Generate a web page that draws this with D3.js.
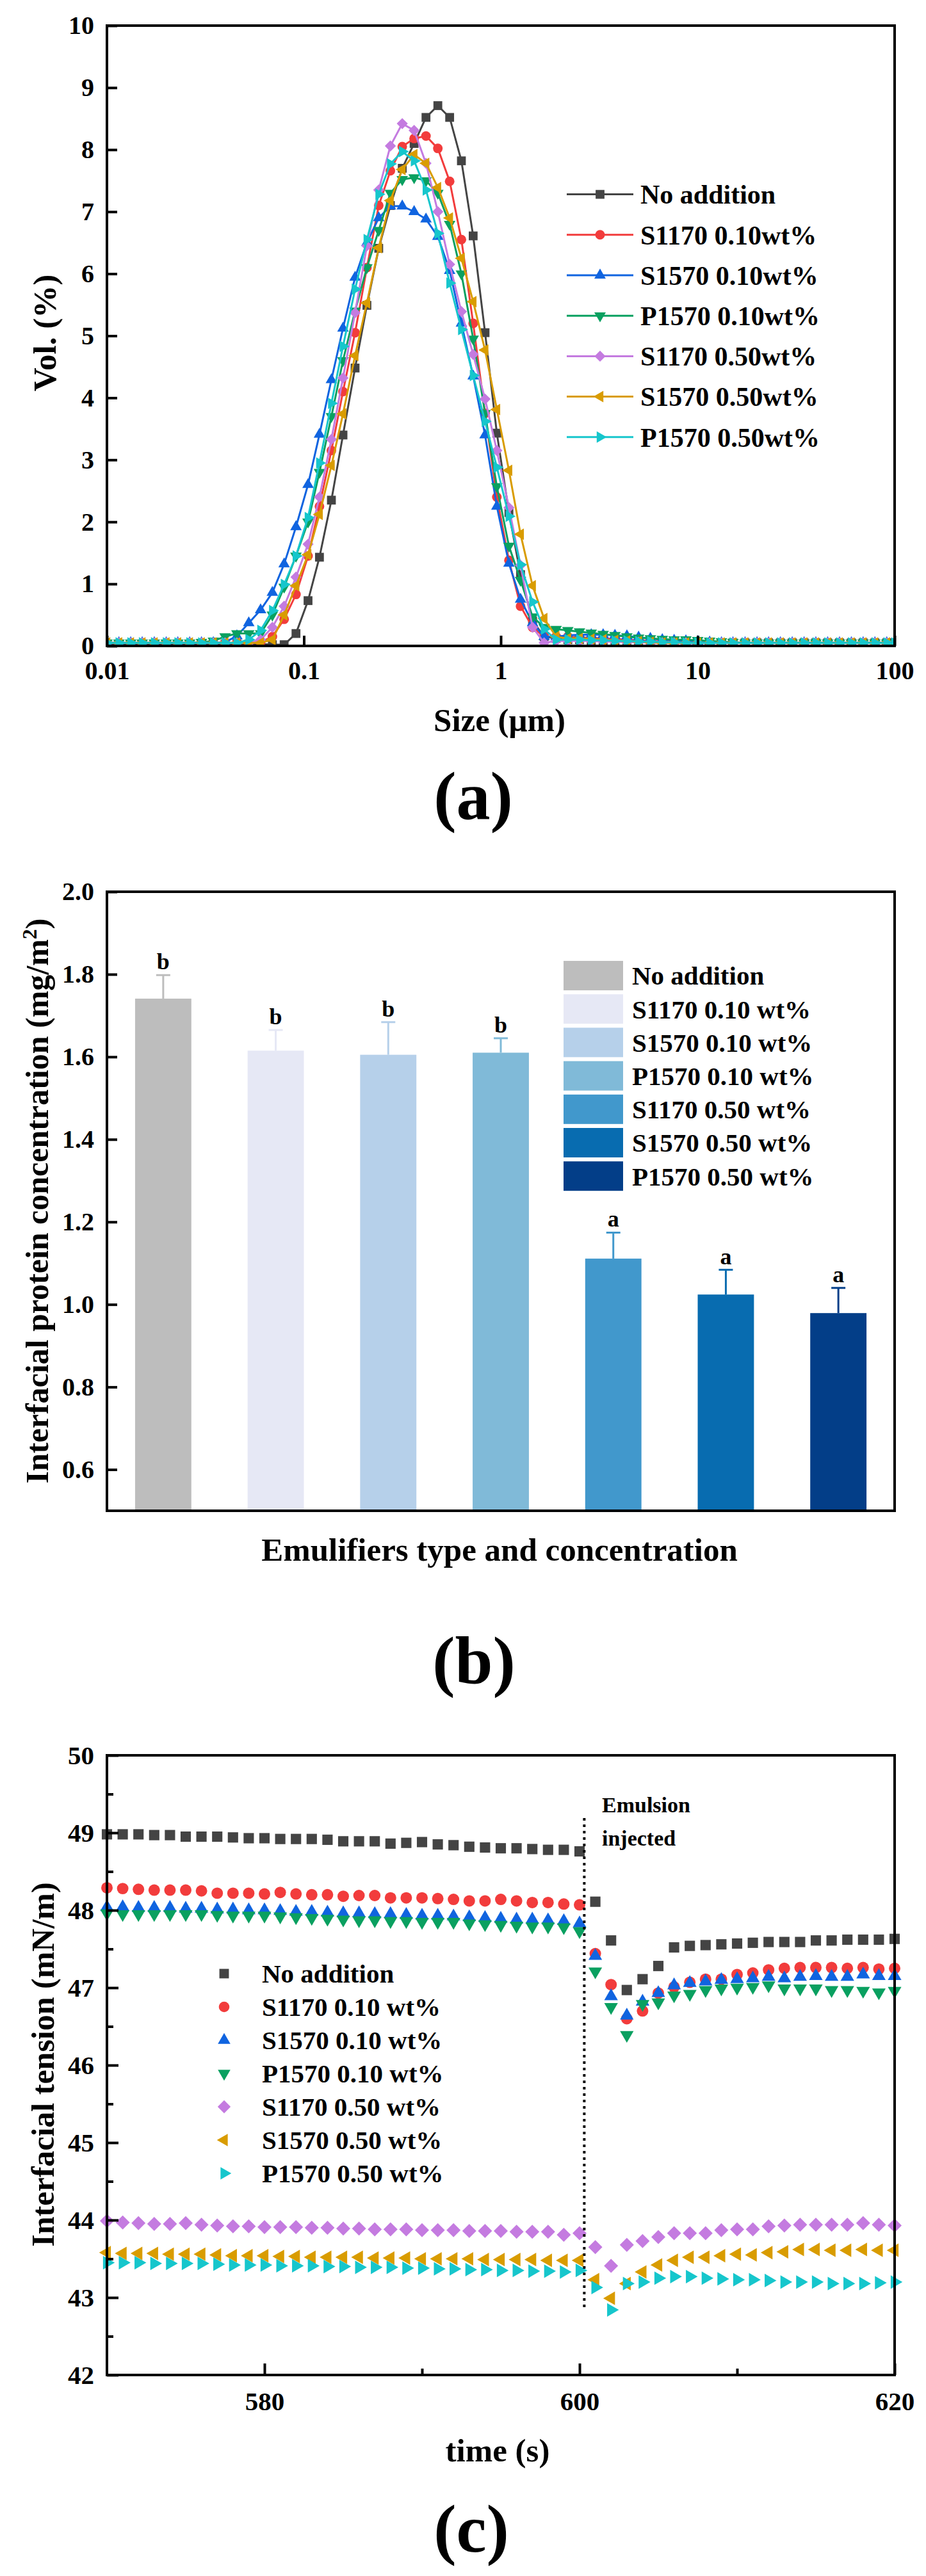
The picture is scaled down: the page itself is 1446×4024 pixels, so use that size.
<!DOCTYPE html>
<html><head><meta charset="utf-8">
<script src="https://cdn.jsdelivr.net/npm/d3@7"></script>
<style>
body{margin:0;background:#fff}
svg text{font-family:"Liberation Serif","Times New Roman",serif;font-weight:bold;fill:#000}
</style>
</head><body>
<svg id="chart" width="1446" height="4024"></svg>
<script>
// ---------------- Panel (a) data: particle size distribution ----------------
const aSize = [
 0.01,0.0115,0.0132,0.0151,0.0174,0.0200,0.0229,0.0263,0.0302,0.0347,
 0.0398,0.0457,0.0525,0.0603,0.0692,0.0794,0.0912,0.105,0.120,0.138,
 0.158,0.182,0.209,0.240,0.275,0.316,0.363,0.417,0.479,0.550,
 0.631,0.724,0.832,0.955,1.10,1.26,1.45,1.66,1.91,2.19,
 2.51,2.88,3.31,3.80,4.37,5.01,5.75,6.61,7.59,8.71,
 10.0,11.5,13.2,15.1,17.4,20.0,22.9,26.3,30.2,34.7,
 39.8,45.7,52.5,60.3,69.2,79.4,91.2,100];
const aNoAddition = [
 0.03,0.03,0.03,0.03,0.03,0.03,0.03,0.03,0.03,0.03,
 0.03,0.03,0.03,0.03,0.02,0.02,0.20,0.73,1.43,2.35,
 3.40,4.48,5.49,6.41,7.10,7.70,8.10,8.52,8.71,8.52,
 7.82,6.61,5.05,3.43,2.15,1.15,0.40,0.15,0.12,0.10,
 0.10,0.09,0.08,0.08,0.07,0.07,0.06,0.06,0.05,0.05,
 0.05,0.05,0.05,0.05,0.05,0.05,0.05,0.05,0.05,0.05,
 0.05,0.05,0.05,0.05,0.05,0.05,0.05,0.05];
const aS1170_010 = [
 0.05,0.05,0.05,0.05,0.05,0.05,0.05,0.05,0.05,0.05,
 0.05,0.05,0.05,0.06,0.15,0.43,0.83,1.45,2.25,3.15,
 4.10,5.05,6.10,7.10,7.66,8.05,8.18,8.22,8.02,7.49,
 6.55,5.20,3.75,2.40,1.38,0.64,0.30,0.15,0.15,0.15,
 0.14,0.13,0.12,0.11,0.10,0.09,0.08,0.07,0.06,0.05,
 0.05,0.05,0.05,0.05,0.05,0.05,0.05,0.05,0.05,0.05,
 0.05,0.05,0.05,0.05,0.05,0.05,0.05,0.05];
const aS1570_010 = [
 0.05,0.05,0.05,0.05,0.05,0.05,0.05,0.05,0.05,0.05,
 0.06,0.16,0.37,0.58,0.86,1.32,1.92,2.60,3.41,4.29,
 5.12,5.94,6.50,6.90,7.09,7.09,7.00,6.88,6.60,6.05,
 5.20,4.35,3.40,2.25,1.33,0.75,0.37,0.15,0.15,0.17,
 0.18,0.18,0.18,0.17,0.16,0.14,0.12,0.10,0.09,0.08,
 0.07,0.06,0.05,0.05,0.05,0.05,0.05,0.05,0.05,0.05,
 0.05,0.05,0.05,0.05,0.05,0.05,0.05,0.05];
const aP1570_010 = [
 0.05,0.05,0.05,0.05,0.05,0.05,0.05,0.05,0.06,0.08,
 0.15,0.20,0.20,0.20,0.50,0.95,1.45,2.00,2.80,3.70,
 4.60,5.40,6.10,6.70,7.30,7.52,7.55,7.50,7.30,6.80,
 6.00,4.95,3.75,2.57,1.61,1.06,0.47,0.30,0.27,0.25,
 0.23,0.21,0.19,0.17,0.15,0.13,0.12,0.11,0.10,0.10,
 0.09,0.08,0.07,0.06,0.05,0.05,0.05,0.05,0.05,0.05,
 0.05,0.05,0.05,0.05,0.05,0.05,0.05,0.05];
const aS1170_050 = [
 0.05,0.05,0.05,0.05,0.05,0.05,0.05,0.05,0.05,0.05,
 0.05,0.05,0.05,0.10,0.30,0.64,1.11,1.64,2.40,3.33,
 4.32,5.37,6.45,7.35,8.06,8.42,8.31,7.78,7.00,6.15,
 5.39,4.70,3.98,3.15,2.23,1.30,0.30,0.05,0.08,0.08,
 0.08,0.08,0.07,0.07,0.06,0.06,0.05,0.05,0.05,0.05,
 0.05,0.05,0.05,0.05,0.05,0.05,0.05,0.05,0.05,0.05,
 0.05,0.05,0.05,0.05,0.05,0.05,0.05,0.05];
const aS1570_050 = [
 0.05,0.05,0.05,0.05,0.05,0.05,0.05,0.05,0.05,0.05,
 0.05,0.05,0.05,0.05,0.10,0.50,0.97,1.47,2.12,2.91,
 3.74,4.68,5.53,6.42,7.18,7.68,7.92,7.78,7.39,6.90,
 6.25,5.55,4.77,3.81,2.83,1.80,0.97,0.44,0.15,0.12,
 0.12,0.11,0.10,0.09,0.08,0.07,0.06,0.05,0.05,0.05,
 0.05,0.05,0.05,0.05,0.05,0.05,0.05,0.05,0.05,0.05,
 0.05,0.05,0.05,0.05,0.05,0.05,0.05,0.05];
const aP1570_050 = [
 0.05,0.05,0.05,0.05,0.05,0.05,0.05,0.05,0.05,0.05,
 0.05,0.05,0.10,0.25,0.57,0.99,1.45,2.07,2.95,3.91,
 4.83,5.75,6.55,7.28,7.77,7.97,7.82,7.35,6.65,5.85,
 5.10,4.36,3.62,2.88,2.09,1.31,0.71,0.27,0.10,0.10,
 0.10,0.09,0.09,0.08,0.08,0.07,0.07,0.06,0.06,0.05,
 0.05,0.05,0.05,0.05,0.05,0.05,0.05,0.05,0.05,0.05,
 0.05,0.05,0.05,0.05,0.05,0.05,0.05,0.05];
const aLegend = ["No addition","S1170 0.10wt%","S1570 0.10wt%","P1570 0.10wt%","S1170 0.50wt%","S1570 0.50wt%","P1570 0.50wt%"];
const aXTicks = [0.01,0.1,1,10,100];
const aYTicks = [0,1,2,3,4,5,6,7,8,9,10];

// ---------------- Panel (b) data: interfacial protein concentration ----------------
const bCategories = ["No addition","S1170 0.10 wt%","S1570 0.10 wt%","P1570 0.10 wt%","S1170 0.50 wt%","S1570 0.50 wt%","P1570 0.50 wt%"];
const bValues = [1.741,1.615,1.605,1.610,1.111,1.024,0.979];
const bErrors = [0.057,0.050,0.079,0.035,0.063,0.060,0.061];
const bLetters = ["b","b","b","b","a","a","a"];
const bYTicks = [0.6,0.8,1.0,1.2,1.4,1.6,1.8,2.0];

// ---------------- Panel (c) data: interfacial tension ----------------
const cTime = [570,571,572,573,574,575,576,577,578,579,580,581,582,583,584,585,586,587,588,589,590,
 591,592,593,594,595,596,597,598,599,600,601,602,603,604,605,606,607,608,609,610,
 611,612,613,614,615,616,617,618,619,620];
const cNoAddition = [48.98,48.98,48.98,48.97,48.97,48.95,48.95,48.95,48.94,48.93,
 48.93,48.92,48.92,48.92,48.91,48.89,48.89,48.89,48.86,48.87,
 48.88,48.85,48.84,48.82,48.81,48.80,48.80,48.79,48.78,48.78,48.76,
 48.11,47.61,46.97,47.11,47.28,47.52,47.54,47.55,47.56,47.57,
 47.58,47.59,47.59,47.59,47.61,47.61,47.62,47.62,47.62,47.63];
const cS1170_010 = [48.29,48.28,48.27,48.26,48.26,48.26,48.25,48.22,48.22,48.22,
 48.21,48.23,48.21,48.20,48.20,48.18,48.19,48.19,48.16,48.16,
 48.16,48.15,48.14,48.12,48.12,48.14,48.12,48.10,48.10,48.08,48.07,
 47.44,47.04,46.60,46.70,46.93,47.01,47.07,47.11,47.11,47.17,
 47.19,47.23,47.25,47.26,47.26,47.26,47.25,47.26,47.24,47.25];
const cS1570_010 = [48.04,48.04,48.03,48.03,48.03,48.02,48.02,48.01,48.01,48.00,
 48.00,47.99,47.98,47.98,47.97,47.96,47.96,47.95,47.95,47.94,
 47.93,47.93,47.92,47.91,47.90,47.89,47.88,47.88,47.87,47.86,47.83,
 47.41,46.89,46.64,46.82,46.93,47.03,47.06,47.08,47.10,47.11,
 47.12,47.14,47.12,47.14,47.15,47.14,47.14,47.17,47.15,47.15];
const cP1570_010 = [47.96,47.95,47.95,47.95,47.95,47.95,47.95,47.94,47.93,47.93,
 47.93,47.92,47.91,47.90,47.89,47.88,47.87,47.87,47.86,47.86,
 47.85,47.85,47.85,47.83,47.82,47.81,47.80,47.79,47.79,47.78,47.73,
 47.21,46.75,46.39,46.79,46.81,46.90,46.92,46.97,46.99,47.00,
 47.01,47.03,46.99,46.99,46.99,46.97,46.97,46.96,46.94,46.96];
const cS1170_050 = [43.99,43.97,43.96,43.95,43.95,43.96,43.94,43.93,43.92,43.92,
 43.91,43.91,43.91,43.90,43.90,43.89,43.89,43.88,43.88,43.88,
 43.87,43.87,43.87,43.86,43.86,43.86,43.85,43.85,43.85,43.81,43.83,
 43.65,43.41,43.68,43.73,43.78,43.83,43.83,43.83,43.87,43.88,
 43.88,43.92,43.93,43.94,43.94,43.94,43.94,43.96,43.94,43.93];
const cS1570_050 = [43.58,43.57,43.57,43.57,43.56,43.56,43.56,43.55,43.54,43.54,
 43.54,43.53,43.53,43.52,43.52,43.52,43.52,43.51,43.51,43.51,
 43.50,43.50,43.50,43.50,43.49,43.49,43.49,43.49,43.48,43.48,43.48,
 43.23,42.99,43.18,43.33,43.42,43.48,43.52,43.52,43.54,43.56,
 43.55,43.58,43.59,43.62,43.62,43.61,43.61,43.62,43.61,43.61];
const cP1570_050 = [43.45,43.45,43.45,43.44,43.44,43.44,43.44,43.43,43.42,43.42,
 43.42,43.41,43.41,43.41,43.40,43.40,43.39,43.39,43.39,43.38,
 43.38,43.37,43.37,43.36,43.36,43.35,43.35,43.34,43.34,43.33,43.35,
 43.13,42.84,43.18,43.20,43.25,43.27,43.27,43.25,43.24,43.23,
 43.23,43.22,43.20,43.20,43.20,43.18,43.18,43.18,43.19,43.20];
const cLegend = ["No addition","S1170 0.10 wt%","S1570 0.10 wt%","P1570 0.10 wt%","S1170 0.50 wt%","S1570 0.50 wt%","P1570 0.50 wt%"];
const cYTicks = [42,43,44,45,46,47,48,49,50];
const cYMinor = [42.5,43.5,44.5,45.5,46.5,47.5,48.5,49.5];
const cXTicks = [580,600,620];
const cXMinor = [590,610];
const injectTime = 600.3;

// ---------------- styles ----------------
const FONT = '"Liberation Serif","Times New Roman",serif';
const lineColors = ["#444444","#f23c3c","#1064e0","#0aa060","#c47be0","#d99c00","#16c6cc"];
const shapes = ["square","circle","triUp","triDown","diamond","triLeft","triRight"];
const bColors = ["#bdbdbd","#e6e8f5","#b6d0ea","#80bad8","#4198cc","#086cb0","#033e88"];
const symType = {square:d3.symbolSquare,circle:d3.symbolCircle,triUp:d3.symbolTriangle,triDown:d3.symbolTriangle,diamond:d3.symbolSquare,triLeft:d3.symbolTriangle,triRight:d3.symbolTriangle};
const symRot = {square:0,circle:0,triUp:0,triDown:180,diamond:45,triLeft:-90,triRight:90};
const aSym = {square:190,circle:177,triUp:140,triDown:140,diamond:150,triLeft:140,triRight:140};
const cSym = {square:260,circle:254,triUp:195,triDown:195,diamond:242,triLeft:195,triRight:195};

const svg = d3.select("#chart");
svg.append("rect").attr("width",1446).attr("height",4024).attr("fill","#fff");
const defs = svg.append("defs");

function addMarker(g, shape, size, x, y, color){
  g.append("path").attr("d", d3.symbol(symType[shape], size)())
    .attr("transform", `translate(${x},${y}) rotate(${symRot[shape]})`)
    .attr("fill", color);
}
function styleAxis(g, fs){
  g.select(".domain").remove();
  g.attr("font-family", FONT).attr("font-size", fs).attr("font-weight","bold");
  g.selectAll(".tick line").attr("stroke","#000").attr("stroke-width",4);
  g.selectAll(".tick text").attr("fill","#000");
}
function label(x, y, txt, fs, rot){
  const t = svg.append("text").attr("text-anchor","middle").attr("dy","0.35em").attr("font-size",fs)
    .attr("transform", rot ? `translate(${x},${y}) rotate(-90)` : `translate(${x},${y})`);
  t.text(txt);
  return t;
}

// ================= Panel (a) =================
const L = 167, R = 1397;
const xa = d3.scaleLog().domain([0.01,100]).range([L,R]);
const ya = d3.scaleLinear().domain([0,10]).range([1009,40]);
defs.append("clipPath").attr("id","clipA").append("rect").attr("x",L).attr("y",30).attr("width",R-L).attr("height",1009-30);
const aData = [aNoAddition,aS1170_010,aS1570_010,aP1570_010,aS1170_050,aS1570_050,aP1570_050];
const gA = svg.append("g").attr("clip-path","url(#clipA)");
aData.forEach((vals,i)=>{
  const pts = vals.map((v,j)=>[aSize[j],v]);
  gA.append("path").attr("d", d3.line().x(d=>xa(d[0])).y(d=>ya(d[1]))(pts))
    .attr("fill","none").attr("stroke",lineColors[i]).attr("stroke-width",3);
  pts.forEach(p=>addMarker(gA, shapes[i], aSym[shapes[i]], xa(p[0]), ya(p[1]), lineColors[i]));
});
const gAy = svg.append("g").attr("transform",`translate(${L},0)`)
  .call(d3.axisLeft(ya).tickValues(aYTicks).tickSize(-16).tickPadding(20).tickFormat(d3.format("d")));
styleAxis(gAy, 40);
const gAx = svg.append("g").attr("transform","translate(0,1009)")
  .call(d3.axisBottom(xa).tickValues(aXTicks).tickSize(-16).tickPadding(24).tickFormat(d=>String(d)));
styleAxis(gAx, 40);
svg.append("rect").attr("x",L).attr("y",40).attr("width",R-L).attr("height",1009-40)
  .attr("fill","none").attr("stroke","#000").attr("stroke-width",4);
// legend a
aLegend.forEach((name,i)=>{
  const y = 303.6 + i*63.2;
  svg.append("line").attr("x1",885).attr("x2",989).attr("y1",y).attr("y2",y).attr("stroke",lineColors[i]).attr("stroke-width",3);
  addMarker(svg, shapes[i], aSym[shapes[i]], 937, y, lineColors[i]);
  svg.append("text").attr("x",1000).attr("y",y).attr("dy","0.35em").attr("font-size",42).text(name);
});
label(780,1124,"Size (μm)",51);
label(69,520,"Vol. (%)",51,true);
label(739,1242,"(a)",106);

// ================= Panel (b) =================
const xb = d3.scaleBand().domain(bCategories).range([L,R]).paddingInner(0.5).paddingOuter(0.25);
const yb = d3.scaleLinear().domain([0.5,2.0]).range([2360,1393]);
bCategories.forEach((c,i)=>{
  const x0 = xb(c), bw = xb.bandwidth(), cx = x0 + bw/2;
  svg.append("rect").attr("x",x0).attr("y",yb(bValues[i])).attr("width",bw)
    .attr("height",yb(0.5)-yb(bValues[i])).attr("fill",bColors[i]);
  const top = yb(bValues[i]+bErrors[i]);
  svg.append("line").attr("x1",cx).attr("x2",cx).attr("y1",yb(bValues[i])).attr("y2",top).attr("stroke",bColors[i]).attr("stroke-width",3);
  svg.append("line").attr("x1",cx-11).attr("x2",cx+11).attr("y1",top).attr("y2",top).attr("stroke",bColors[i]).attr("stroke-width",3);
  svg.append("text").attr("x",cx).attr("y",top-9).attr("text-anchor","middle").attr("font-size",36).text(bLetters[i]);
});
const gBy = svg.append("g").attr("transform",`translate(${L},0)`)
  .call(d3.axisLeft(yb).tickValues(bYTicks).tickSize(-16).tickPadding(20).tickFormat(d3.format(".1f")));
styleAxis(gBy, 40);
svg.append("rect").attr("x",L).attr("y",1393).attr("width",R-L).attr("height",2360-1393)
  .attr("fill","none").attr("stroke","#000").attr("stroke-width",4);
bCategories.forEach((c,i)=>{
  const y = 1524 + i*52.2;
  svg.append("rect").attr("x",880).attr("y",y-23).attr("width",93).attr("height",46).attr("fill",bColors[i]);
  svg.append("text").attr("x",987).attr("y",y).attr("dy","0.35em").attr("font-size",41).text(c);
});
label(780,2420,"Emulifiers type and concentration",51);
{
  const t = svg.append("text").attr("text-anchor","middle").attr("font-size",50)
    .attr("transform","translate(57,1876) rotate(-90)").attr("dy","0.35em");
  t.append("tspan").text("Interfacial protein concentration (mg/m");
  t.append("tspan").attr("dy",-18).attr("font-size",32).text("2");
  t.append("tspan").attr("dy",18).attr("font-size",50).text(")");
}
label(740,2593,"(b)",106);

// ================= Panel (c) =================
const xc = d3.scaleLinear().domain([570,620]).range([L,R]);
const yc = d3.scaleLinear().domain([42,50]).range([3710,2742]);
const cData = [cNoAddition,cS1170_010,cS1570_010,cP1570_010,cS1170_050,cS1570_050,cP1570_050];
const gC = svg.append("g");
cData.forEach((vals,i)=>{
  vals.forEach((v,j)=>addMarker(gC, shapes[i], cSym[shapes[i]], xc(cTime[j]), yc(v), lineColors[i]));
});
svg.append("line").attr("x1",xc(injectTime)).attr("x2",xc(injectTime)).attr("y1",yc(49.19)).attr("y2",yc(42.86))
  .attr("stroke","#000").attr("stroke-width",4).attr("stroke-dasharray","4,6");
svg.append("text").attr("x",940).attr("y",2819).attr("dy","0.35em").attr("font-size",34).text("Emulsion");
svg.append("text").attr("x",940).attr("y",2871).attr("dy","0.35em").attr("font-size",34).text("injected");
const gCy = svg.append("g").attr("transform",`translate(${L},0)`)
  .call(d3.axisLeft(yc).tickValues(cYTicks).tickSize(-18).tickPadding(20).tickFormat(d3.format("d")));
styleAxis(gCy, 41);
const gCym = svg.append("g").attr("transform",`translate(${L},0)`)
  .call(d3.axisLeft(yc).tickValues(cYMinor).tickSize(-10).tickFormat(""));
styleAxis(gCym, 41);
const gCx = svg.append("g").attr("transform","translate(0,3710)")
  .call(d3.axisBottom(xc).tickValues(cXTicks).tickSize(-18).tickPadding(26).tickFormat(d3.format("d")));
styleAxis(gCx, 41);
const gCxm = svg.append("g").attr("transform","translate(0,3710)")
  .call(d3.axisBottom(xc).tickValues(cXMinor).tickSize(-10).tickFormat(""));
styleAxis(gCxm, 41);
svg.append("rect").attr("x",L).attr("y",2742).attr("width",R-L).attr("height",3710-2742)
  .attr("fill","none").attr("stroke","#000").attr("stroke-width",4);
cLegend.forEach((name,i)=>{
  const y = 3083 + i*52;
  addMarker(svg, shapes[i], cSym[shapes[i]]*0.85, 350, y, lineColors[i]);
  svg.append("text").attr("x",409).attr("y",y).attr("dy","0.35em").attr("font-size",41).text(name);
});
label(777,3827,"time (s)",51);
label(66,3225,"Interfacial tension (mN/m)",50,true);
label(736,3949,"(c)",106);
</script>
</body></html>
